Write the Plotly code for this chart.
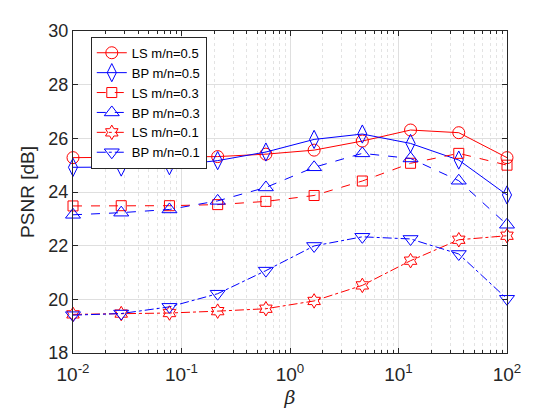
import numpy as np
import plotly.graph_objects as go

beta = [10 ** (-2 + 4 * k / 9) for k in range(10)]

ls_05 = [25.28, 25.29, 25.29, 25.32, 25.41, 25.56, 25.90, 26.31, 26.21, 25.28]
bp_05 = [24.92, 24.93, 24.98, 25.17, 25.49, 25.96, 26.16, 25.81, 25.19, 23.89]
ls_03 = [23.48, 23.49, 23.49, 23.53, 23.65, 23.87, 24.41, 25.07, 25.44, 25.00]
bp_03 = [23.15, 23.23, 23.35, 23.67, 24.17, 24.92, 25.44, 25.25, 24.42, 22.78]
ls_01 = [19.44, 19.47, 19.49, 19.56, 19.65, 19.94, 20.52, 21.44, 22.22, 22.37]
bp_01 = [19.41, 19.47, 19.72, 20.21, 21.07, 21.99, 22.33, 22.25, 21.69, 20.02]

names = ["LS m/n=0.5", "BP m/n=0.5", "LS m/n=0.3", "BP m/n=0.3", "LS m/n=0.1", "BP m/n=0.1"]
x_ticks = [0.01, 0.1, 1, 10, 100]
x_ticktext = ["10<sup>-2</sup>", "10<sup>-1</sup>", "10<sup>0</sup>", "10<sup>1</sup>", "10<sup>2</sup>"]
y_ticks = [18, 20, 22, 24, 26, 28, 30]

RED = "#FF0000"
BLUE = "#0000FF"

series = [
    (ls_05, RED, "solid", "circle-open", 12),
    (bp_05, BLUE, "solid", "diamond-tall-open", 13),
    (ls_03, RED, "dash", "square-open", 10),
    (bp_03, BLUE, "dash", "triangle-up-open", 13),
    (ls_01, RED, "dashdot", "hexagram-open", 11),
    (bp_01, BLUE, "dashdot", "triangle-down-open", 13),
]

fig = go.Figure()
for (vals, col, dash, sym, sz), nm in zip(series, names):
    fig.add_trace(go.Scatter(
        x=beta, y=vals, name=nm, mode="lines+markers", cliponaxis=False,
        line=dict(color=col, width=1, dash=dash),
        marker=dict(symbol=sym, size=sz, color=col, line=dict(color=col, width=1)),
    ))

minor_vals = []
for d in [0.01, 0.1, 1, 10]:
    for m in range(2, 10):
        minor_vals.append(d * m)

FAM = "Liberation Sans, Arial, sans-serif"
axis_font = dict(family=FAM, size=18, color="#262626")

fig.update_layout(
    width=560, height=420,
    margin=dict(l=73, r=53, t=31, b=67),
    paper_bgcolor="white", plot_bgcolor="white",
    font=axis_font,
    showlegend=True,
    legend=dict(
        x=0.041, y=0.982, xanchor="left", yanchor="top",
        bgcolor="white", bordercolor="#262626", borderwidth=1,
        font=dict(family=FAM, size=13, color="black"),
        tracegroupgap=0, itemwidth=30,
    ),
    xaxis=dict(
        type="log", range=[-2, 2],
        tickmode="array", tickvals=x_ticks, ticktext=x_ticktext,
        ticks="inside", ticklen=5, tickcolor="#262626",
        tickfont=dict(family=FAM, size=19, color="#262626"),
        ticklabelstandoff=4,
        showline=True, linecolor="#262626", linewidth=1, mirror="ticks",
        showgrid=True, gridcolor="#DFDFDF", gridwidth=1,
        minor=dict(tickvals=minor_vals, ticks="inside", ticklen=3, tickcolor="#262626",
                   showgrid=True, gridcolor="#E3E3E3", griddash="dot", gridwidth=1),
        zeroline=False,
        title=dict(text="<i>β</i>", font=dict(family="DejaVu Serif, serif", size=19, color="#262626"), standoff=6),
    ),
    yaxis=dict(
        range=[18, 30], tickmode="array", tickvals=y_ticks,
        ticks="inside", ticklen=5, tickcolor="#262626",
        tickfont=dict(family=FAM, size=18, color="#262626"),
        showline=True, linecolor="#262626", linewidth=1, mirror="ticks",
        showgrid=True, gridcolor="#DFDFDF", gridwidth=1,
        zeroline=False,
        title=dict(text="PSNR [dB]", font=dict(family=FAM, size=19, color="#262626"), standoff=8),
    ),
)

fig.write_html("out.html")
